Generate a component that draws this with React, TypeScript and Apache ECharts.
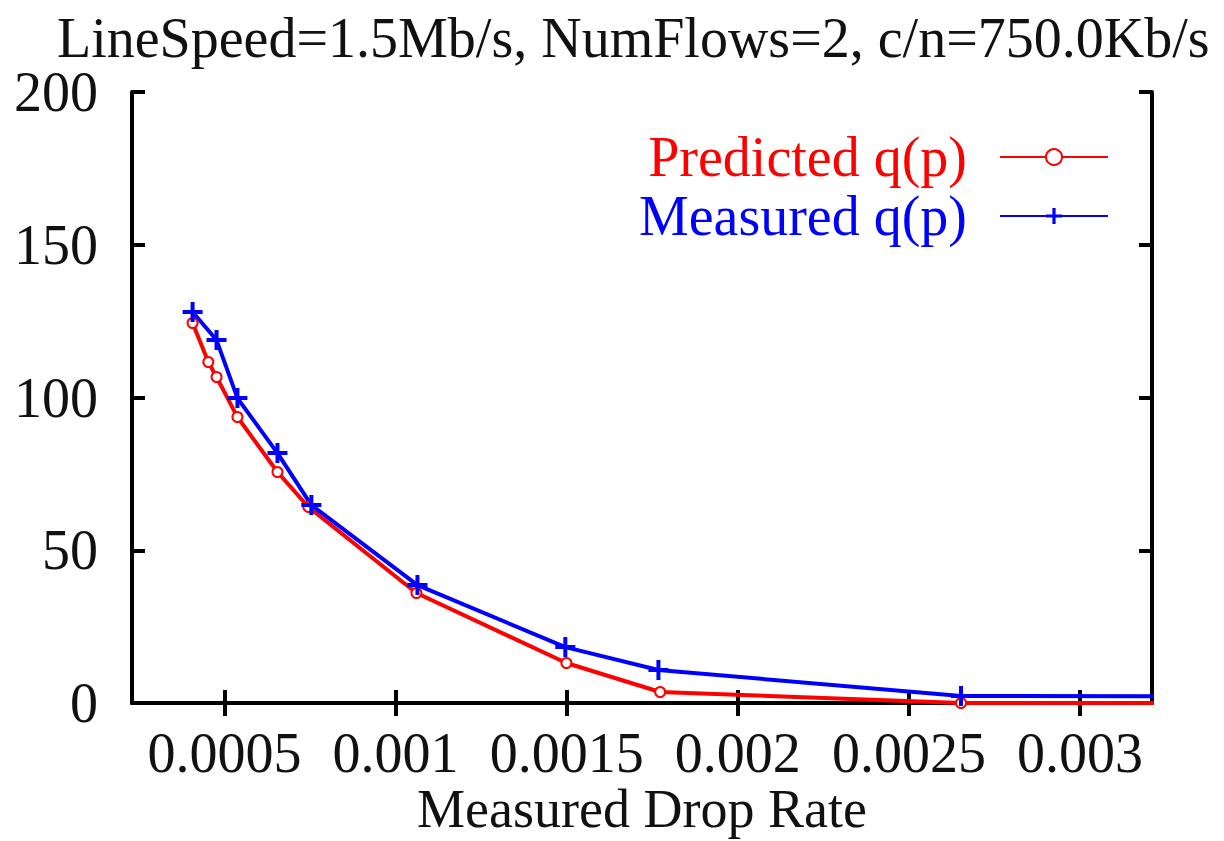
import React, { useEffect, useRef } from "react";
import * as echarts from "echarts";

const titleText = "LineSpeed=1.5Mb/s, NumFlows=2, c/n=750.0Kb/s";
const xAxisName = "Measured Drop Rate";
const xTicks = [0.0005, 0.001, 0.0015, 0.002, 0.0025, 0.003];
const xTickLabels = ["0.0005", "0.001", "0.0015", "0.002", "0.0025", "0.003"];
const yTicks = [0, 50, 100, 150, 200];

const predictedName = "Predicted q(p)";
const predX = [0.000407, 0.000453, 0.000477, 0.000538, 0.000655, 0.000745, 0.001061, 0.001499, 0.001773, 0.002652, 0.004];
const predY = [124.4, 111.6, 106.7, 93.6, 75.6, 64.2, 36.0, 13.1, 3.6, 0, 0];

const measuredName = "Measured q(p)";
const measX = [0.000407, 0.000477, 0.000538, 0.000655, 0.000754, 0.001064, 0.001496, 0.001768, 0.002652, 0.004];
const measY = [128, 118.8, 99.8, 81.8, 64.8, 38.6, 18.3, 10.8, 2.3, 2.0];

const FONT = "'Liberation Serif', 'Times New Roman', serif";
const PLUS = "path://M8,0H12V8H20V12H12V20H8V12H0V8H8Z";

export default function App() {
  const ref = useRef<HTMLDivElement>(null);
  useEffect(() => {
    if (!ref.current) return;
    const chart = echarts.init(ref.current, undefined, { renderer: "svg" });
    const axisLine = { show: true, lineStyle: { color: "#000", width: 4 } };
    const tick = { show: true, inside: true, length: 13, lineStyle: { color: "#000", width: 4 } };
    const labelStyle = { fontFamily: FONT, fontSize: 56, color: "#111" };
    chart.setOption({
      animation: false,
      backgroundColor: "#fff",
      title: {
        text: titleText,
        left: 52,
        top: 5,
        textStyle: { fontFamily: FONT, fontSize: 56, fontWeight: "normal", color: "#111" },
      },
      legend: {
        orient: "vertical",
        right: 110,
        top: 124,
        align: "right",
        itemWidth: 108,
        itemHeight: 20,
        itemGap: 3,
        textStyle: { fontFamily: FONT, fontSize: 56, lineHeight: 56, padding: [0, 28, 0, 0] },
        data: [
          { name: predictedName, textStyle: { color: "#ff0000" } },
          { name: measuredName, textStyle: { color: "#0000ff" } },
        ],
      },
      grid: { left: 132, right: 72, top: 92, bottom: 138, outerBoundsMode: "none" },
      xAxis: [
        {
          type: "value",
          min: 0.00023,
          max: 0.00321,
          name: xAxisName,
          nameLocation: "middle",
          nameGap: 106,
          nameMoveOverlap: false,
          nameTextStyle: { ...labelStyle, fontSize: 54, verticalAlign: "middle", lineHeight: 40 },
          axisLine,
          axisTick: { ...tick, customValues: xTicks },
          axisLabel: {
            ...labelStyle,
            margin: 22,
            lineHeight: 56,
            customValues: xTicks,
            formatter: (v: number) => {
              const i = xTicks.findIndex((t) => Math.abs(t - v) < 1e-9);
              return i >= 0 ? xTickLabels[i] : "";
            },
          },
          splitLine: { show: false },
        },
        {
          type: "value",
          position: "top",
          min: 0.00023,
          max: 0.00321,
          axisLine,
          axisTick: { ...tick, customValues: xTicks },
          axisLabel: { show: false },
          splitLine: { show: false },
        },
      ],
      yAxis: [
        {
          type: "value",
          min: 0,
          max: 200,
          interval: 50,
          axisLine,
          axisTick: { ...tick, customValues: yTicks },
          axisLabel: { ...labelStyle, margin: 34 },
          splitLine: { show: false },
        },
        {
          type: "value",
          position: "right",
          min: 0,
          max: 200,
          interval: 50,
          axisLine,
          axisTick: { ...tick, customValues: yTicks },
          axisLabel: { show: false },
          splitLine: { show: false },
        },
      ],
      series: [
        {
          name: predictedName,
          type: "line",
          data: predX.map((x, i) => [x, predY[i]]),
          symbol: "emptyCircle",
          symbolSize: 10,
          color: "#ff0000",
          lineStyle: { color: "#ff0000", width: 4 },
          itemStyle: { color: "#ff0000", borderColor: "#ff0000", borderWidth: 3 },
        },
        {
          name: measuredName,
          type: "line",
          data: measX.map((x, i) => [x, measY[i]]),
          symbol: PLUS,
          symbolSize: 20,
          color: "#0000ff",
          lineStyle: { color: "#0000ff", width: 4 },
          itemStyle: { color: "#0000ff" },
        },
      ],
    });
    return () => chart.dispose();
  }, []);
  return (
    <div
      ref={ref}
      style={{ position: "fixed", left: 0, top: 0, width: 1224, height: 841, background: "#fff" }}
    />
  );
}
